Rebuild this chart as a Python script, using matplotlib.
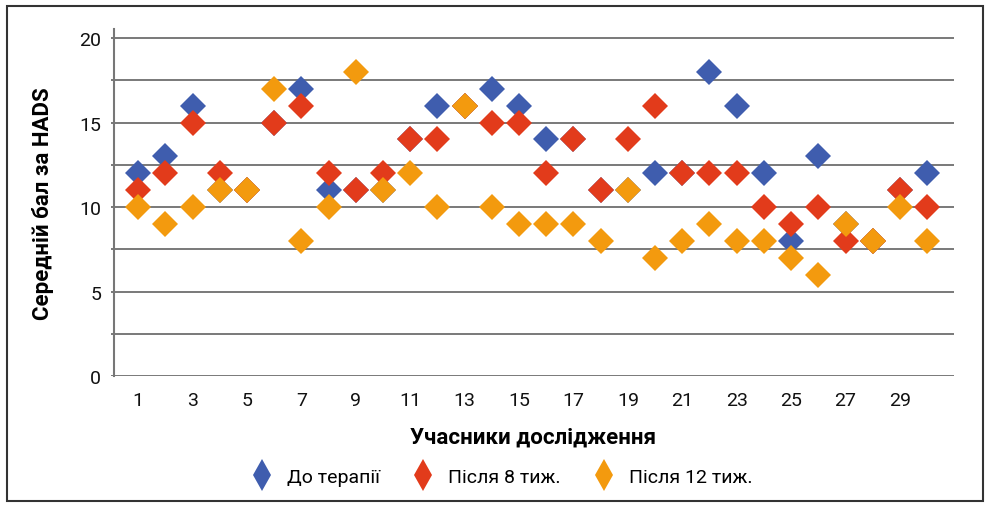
import matplotlib
matplotlib.use("Agg")
import matplotlib.pyplot as plt
from matplotlib.patches import Rectangle
from matplotlib.lines import Line2D

participants = list(range(1, 31))
before = [12, 13, 16, 11, 11, 15, 17, 11, 11, 11, 14, 16, 16, 17, 16,
          14, 14, 11, 11, 12, 12, 18, 16, 12, 8, 13, 9, 8, 11, 12]
after8 = [11, 12, 15, 12, 11, 15, 16, 12, 11, 12, 14, 14, 16, 15, 15,
          12, 14, 11, 14, 16, 12, 12, 12, 10, 9, 10, 8, 8, 11, 10]
after12 = [10, 9, 10, 11, 11, 17, 8, 10, 18, 11, 12, 10, 16, 10, 9,
           9, 9, 8, 11, 7, 8, 9, 8, 8, 7, 6, 9, 8, 10, 8]
series_names = ["До терапії", "Після 8 тиж.", "Після 12 тиж."]
colors = ["#3F5DAE", "#E23B1B", "#F39A0E"]
xticks = list(range(1, 30, 2))
yticks = [0, 5, 10, 15, 20]

tick_font = ["Liberation Sans Narrow", "DejaVu Sans Condensed", "Roboto", "DejaVu Sans"]
bold_font = ["Liberation Sans Narrow", "DejaVu Sans Condensed", "Roboto", "DejaVu Sans"]

fig = plt.figure(figsize=(9.91, 5.06), dpi=100)
ax = fig.add_axes([0.112, 0.255, 0.851, 0.686])

for s in ["top", "right", "bottom"]:
    ax.spines[s].set_visible(False)
ax.spines["left"].set_position(("data", 0.1))
ax.spines["left"].set_color("#777777")
ax.spines["left"].set_linewidth(1.5)

for vals, c, name in zip([before, after8, after12], colors, series_names):
    ax.plot(participants, vals, linestyle="none", marker="D", markersize=13,
            color=c, markeredgewidth=0, label=name, zorder=3)

ax.set_xlim(0, 31)
ax.set_ylim(0, 20.55)
ax.set_yticks(yticks)
for g in [v * 2.5 for v in range(9)]:
    ax.axhline(g, color="#555555", linewidth=1.1, zorder=1)
ax.set_xticks(xticks)
ax.set_xticklabels([str(t) for t in xticks], family=tick_font, fontsize=14, color="#111111")
ax.set_yticklabels([str(t) for t in yticks], family=tick_font, fontsize=14, color="#111111")
ax.tick_params(length=0, pad=11)
ax.tick_params(axis="y", pad=9)

ax.set_xlabel("Учасники дослідження", family=bold_font, fontweight="bold",
              fontsize=16, labelpad=12)
ax.set_ylabel("Середній бал за HADS", family=bold_font, fontweight="bold",
              fontsize=16, labelpad=18)

handles = [Line2D([0], [0], linestyle="none", marker="d", markersize=16,
                  color=c, markeredgewidth=0) for c in colors]
fig.legend(handles, series_names, loc="center", bbox_to_anchor=(0.502, 0.056),
           ncol=3, frameon=False, prop={"family": tick_font, "size": 14},
           handletextpad=0.3, columnspacing=1.2)

fig.patches.append(Rectangle((0.007, 0.008), 0.985, 0.978, transform=fig.transFigure,
                             fill=False, edgecolor="#333333", linewidth=1.5))

fig.savefig("out.png", dpi=100)
